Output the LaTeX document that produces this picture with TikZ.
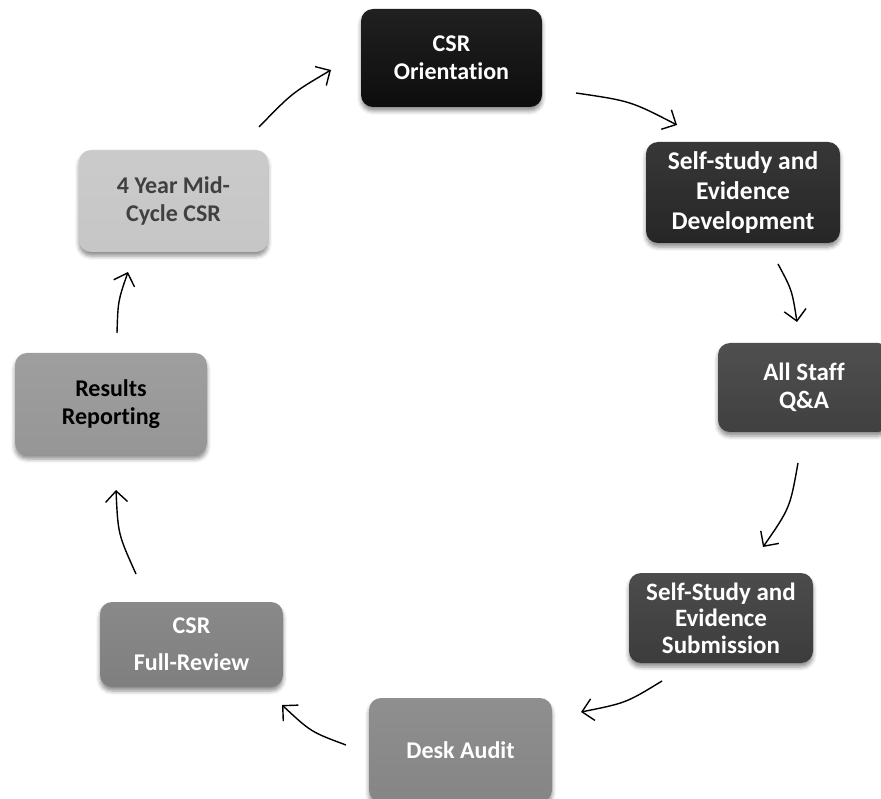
\documentclass[tikz,border=0pt]{standalone}
\usepackage{fontspec}
\setmainfont{Carlito}[Ligatures=NoCommon]
\usetikzlibrary{arrows.meta,shadows.blur}
\definecolor{cO}{HTML}{0D0D0D}
\definecolor{cD}{HTML}{262626}
\definecolor{cQ}{HTML}{404040}
\definecolor{cS}{HTML}{3C3C3C}
\definecolor{cA}{HTML}{858585}
\definecolor{cF}{HTML}{7F7F7F}
\definecolor{cR}{HTML}{969696}
\definecolor{cM}{HTML}{C6C6C6}
\definecolor{cMt}{HTML}{404040}
\tikzset{
  stagebox/.style={rectangle, rounded corners=12pt, align=center,
    font=\fontsize{24}{28}\selectfont\bfseries, inner sep=2pt,
    blur shadow={shadow xshift=0pt, shadow yshift=-4pt, shadow blur radius=4pt, shadow opacity=45}},
  flow/.style={line width=1.4pt, -{Straight Barb[length=11pt,width=22pt,line width=1.4pt]}}
}
\begin{document}
\begin{tikzpicture}[x=1pt,y=-1pt]
\useasboundingbox (0,0) rectangle (881,799);
\node[stagebox, minimum width=181pt, minimum height=98pt, top color=cO!92!white, bottom color=cO, text=white] (O) at (451.5,58) {CSR\\Orientation};
\node[stagebox, minimum width=194pt, minimum height=101pt, top color=cD!92!white, bottom color=cD, text=white, font=\fontsize{25.5}{30}\selectfont\bfseries] (D) at (743,192.5) {Self-study and\\Evidence\\Development};
\node[stagebox, minimum width=172pt, minimum height=89pt, top color=cQ!92!white, bottom color=cQ, text=white, font=\fontsize{25}{28}\selectfont\bfseries] (Q) at (804,387.5) {All Staff\\Q\&A};
\node[stagebox, minimum width=184pt, minimum height=90pt, top color=cS!92!white, bottom color=cS, text=white, font=\fontsize{25}{26.5}\selectfont\bfseries] (S) at (721,618) {Self-Study and\\Evidence\\Submission};
\node[stagebox, minimum width=183pt, minimum height=104pt, top color=cA!92!white, bottom color=cA, text=white] (A) at (460.5,750) {Desk Audit};
\node[stagebox, minimum width=183pt, minimum height=85pt, top color=cF!92!white, bottom color=cF, text=white, font=\fontsize{24}{37}\selectfont\bfseries] (F) at (191.5,644.5) {CSR\\Full-Review};
\node[stagebox, minimum width=192pt, minimum height=102pt, top color=cR!92!white, bottom color=cR, text=black] (R) at (111,404) {Results\\Reporting};
\node[stagebox, minimum width=189pt, minimum height=102pt, top color=cM!92!white, bottom color=cM, text=cMt] (M) at (173.5,201) {4 Year Mid-\\Cycle CSR};

\coordinate (a1s) at (576,93);  \coordinate (a1e) at (677,125);
\coordinate (a2s) at (778,264); \coordinate (a2e) at (797,322);
\coordinate (a3s) at (798,463); \coordinate (a3e) at (763,547);
\coordinate (a4s) at (662,681); \coordinate (a4e) at (581,712);
\coordinate (a5s) at (346,745); \coordinate (a5e) at (282,705);
\coordinate (a6s) at (136,574); \coordinate (a6e) at (116,490);
\coordinate (a7s) at (117,333); \coordinate (a7e) at (128,272);
\coordinate (a8s) at (259,127); \coordinate (a8e) at (331,70);

\draw[flow] (a1s) .. controls (630.5,101) .. (a1e);
\draw[flow] (a2s) .. controls (792,290) .. (a2e);
\draw[flow] (a3s) .. controls (790,508) .. (a3e);
\draw[flow] (a4s) .. controls (626,703) .. (a4e);
\draw[flow] (a5s) .. controls (311,732) .. (a5e);
\draw[flow] (a6s) .. controls (118,534) .. (a6e);
\draw[flow] (a7s) .. controls (118,301) .. (a7e);
\draw[flow] (a8s) .. controls (292,93) .. (a8e);
\end{tikzpicture}
\end{document}
